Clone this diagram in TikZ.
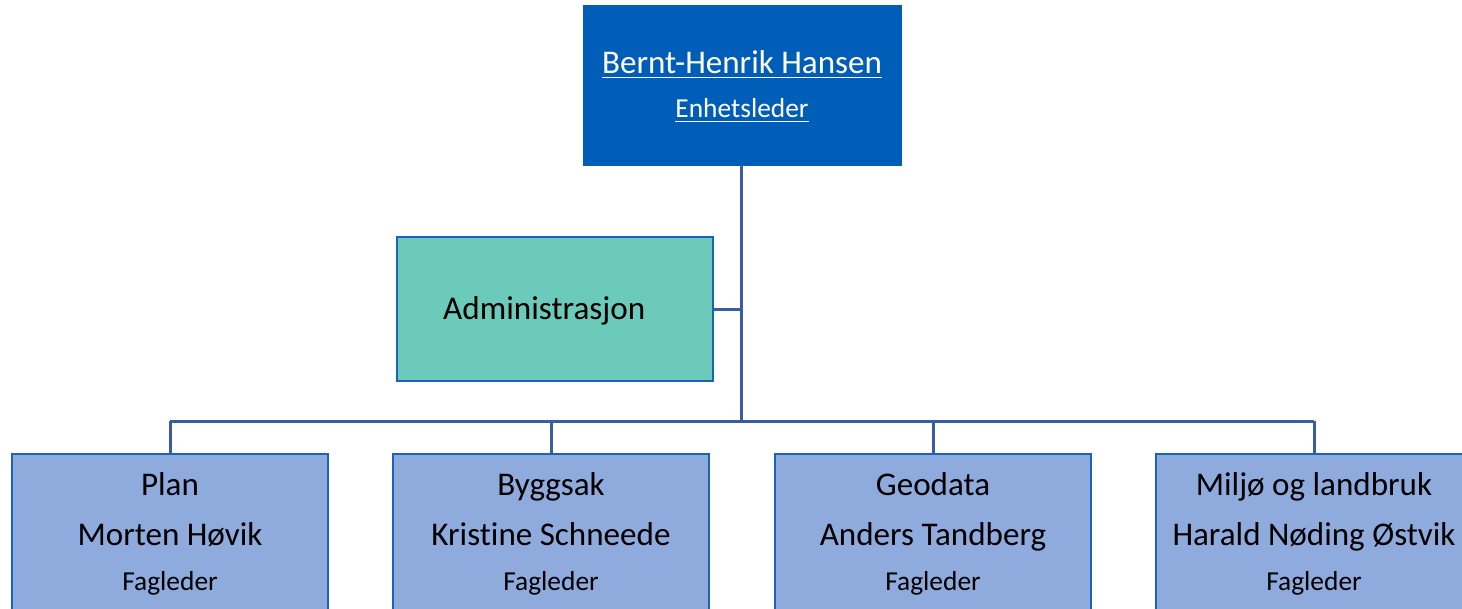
\documentclass[tikz,border=0pt]{standalone}
\usepackage{fontspec}
\setmainfont[Ligatures=CommonOff]{Carlito}
\definecolor{topblue}{HTML}{005EB8}
\definecolor{admfill}{HTML}{6CCABA}
\definecolor{boxline}{HTML}{1A62C0}
\definecolor{unitfill}{HTML}{8FAADC}
\definecolor{connblue}{HTML}{3A5CA3}
\begin{document}
\begin{tikzpicture}[x=1bp,y=-1bp,
  topbox/.style={rectangle,fill=topblue,draw=topblue,minimum width=318bp,minimum height=160bp,inner sep=0pt},
  admbox/.style={rectangle,fill=admfill,draw=boxline,line width=2.8bp,minimum width=316bp,minimum height=144bp,inner sep=0pt},
  unitbox/.style={rectangle,fill=unitfill,draw=boxline,line width=2.8bp,minimum width=316bp,minimum height=200bp,inner sep=0pt},
  conn/.style={draw=connblue,line width=3bp},
  nametxt/.style={font=\fontsize{33.2}{38}\selectfont,anchor=base,inner sep=0pt},
  admtxt/.style={font=\fontsize{33.3}{38}\selectfont,anchor=base west,inner sep=0pt},
  midtxt/.style={font=\fontsize{33.2}{38}\selectfont,anchor=base,inner sep=0pt},
  smalltxt/.style={font=\fontsize{27.5}{32}\selectfont,anchor=base,inner sep=0pt},
  ul/.style={draw=white,line width=1.8bp}
]
\useasboundingbox (0,0) rectangle (1462,609);
\clip (0,0) rectangle (1462,609);
\fill[white] (0,0) rectangle (1462,609);

% boxes
\node[topbox] (top) at (742,85) {};
\node[admbox] (admin) at (555,309) {};
\node[unitbox] (plan) at (170,554) {};
\node[unitbox] (bygg) at (551,554) {};
\node[unitbox] (geo) at (933,554) {};
\node[unitbox] (milj) at (1314,554) {};

\coordinate (bus) at (741,421);

% connectors
\draw[conn] (top.south -| bus) -- (bus);
\draw[conn] (admin.east) -- (admin.east -| bus);
\draw[conn] (plan.north |- bus) -- (milj.north |- bus);
\draw[conn] (plan.north |- bus) -- (plan.north);
\draw[conn] (bygg.north |- bus) -- (bygg.north);
\draw[conn] (geo.north |- bus) -- (geo.north);
\draw[conn] (milj.north |- bus) -- (milj.north);

% top texts
\node[nametxt,text=white] (tname) at (742,74) {Bernt-Henrik Hansen};
\node[smalltxt,text=white] (trole) at (742,118) {Enhetsleder};
\draw[ul] ([yshift=-3.5bp]tname.base west) -- ([yshift=-3.5bp]tname.base east);
\draw[ul] ([yshift=-3.5bp]trole.base west) -- ([yshift=-3.5bp]trole.base east);

% admin text
\node[admtxt] (atxt) at (443,319) {Administrasjon};

% unit texts
\node[midtxt] (p1) at (170,495) {Plan};
\node[midtxt] (p2) at (170,545) {Morten Høvik};
\node[smalltxt] (p3) at (170,590) {Fagleder};

\node[midtxt] (b1) at (551,495) {Byggsak};
\node[midtxt] (b2) at (551,545) {Kristine Schneede};
\node[smalltxt] (b3) at (551,590) {Fagleder};

\node[midtxt] (g1) at (933,495) {Geodata};
\node[midtxt] (g2) at (933,545) {Anders Tandberg};
\node[smalltxt] (g3) at (933,590) {Fagleder};

\node[midtxt] (m1) at (1314,495) {Miljø og landbruk};
\node[midtxt] (m2) at (1314,545) {Harald Nøding Østvik};
\node[smalltxt] (m3) at (1314,590) {Fagleder};
\end{tikzpicture}
\end{document}
